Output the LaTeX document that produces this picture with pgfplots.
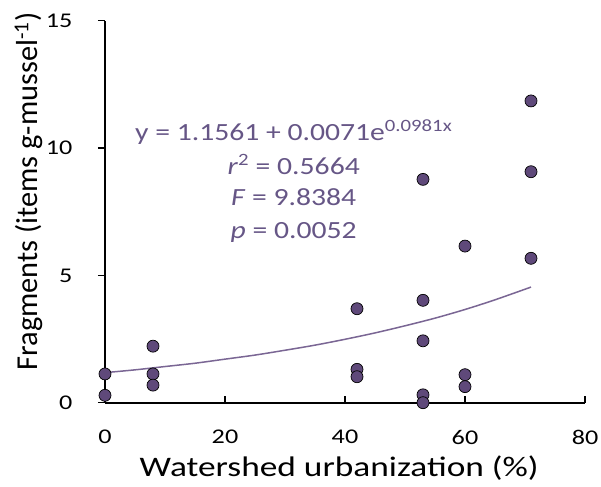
\documentclass[border=0pt]{standalone}
\usepackage{fontspec}
\setmainfont{Carlito}
\newfontfamily\tickfont[FakeStretch=1.25]{Carlito}
\newfontfamily\xlabfont[FakeStretch=1.25]{Carlito}
\newfontfamily\eqfont[FakeStretch=1.2]{Carlito}
\usepackage{pgfplots}
\pgfplotsset{compat=1.18}

\definecolor{dotfill}{RGB}{95,73,122}
\definecolor{fittxt}{RGB}{102,86,134}
\definecolor{fitline}{RGB}{122,102,148}

% fragments per mussel against watershed urbanization
\pgfplotstableread{
x    y
0    1.13
0    0.29
8    2.22
8    1.13
8    0.69
42   3.69
42   1.31
42   1.02
53   8.77
53   4.02
53   2.43
53   0.31
53   0.00
60   6.15
60   1.10
60   0.63
71   11.85
71   9.07
71   5.67
}\fragdata

% fitted exponential curve
\pgfplotstableread{
x    y
0    1.18
5    1.29
10   1.42
15   1.55
20   1.71
25   1.87
30   2.06
35   2.26
40   2.49
45   2.74
50   3.02
55   3.32
60   3.66
65   4.04
71   4.54
}\fitdata

\begin{document}
\begin{tikzpicture}
\begin{axis}[
  at={(0,0)}, anchor=south west,
  scale only axis, width=480bp, height=382bp,
  xmin=0, xmax=80, ymin=0, ymax=15,
  axis lines*=left,
  axis line style={line width=1.6bp, black},
  xtick={0,20,...,80}, ytick={0,5,10,15},
  xtick align=inside, ytick align=outside,
  major tick length=7bp,
  tick style={line width=1.3bp, black},
  /pgf/number format/assume math mode=true,
  ticklabel style={font=\tickfont\fontsize{21}{25}\selectfont},
  xticklabel style={yshift=-24bp},
  yticklabel style={xshift=-22bp},
  xlabel={Watershed urbanization (\%)},
  ylabel={Fragments (items g-mussel\textsuperscript{-1})},
  xlabel style={font=\xlabfont\fontsize{28.4}{32}\selectfont, at={(axis description cs:0.488,-0.192)}, anchor=base},
  ylabel style={font=\fontsize{30.5}{34}\selectfont, at={(axis description cs:-0.159,0.553)}, anchor=center},
  clip=false,
]
\addplot[color=fitline, line width=1.5bp, smooth] table[x=x, y=y] {\fitdata};
\addplot[only marks, mark=*, mark size=6bp,
  mark options={fill=dotfill, draw=black, line width=0.7bp}] table[x=x, y=y] {\fragdata};

\begin{scope}[every node/.style={text=fittxt, font=\eqfont\fontsize{24.8}{28}\selectfont, anchor=base}]
\node at (axis cs:31.45,10.29) {y = 1.1561 + 0.0071e\textsuperscript{0.0981x}};
\node at (axis cs:31.45,8.97) {\textit{r}\textsuperscript{2} = 0.5664};
\node at (axis cs:31.45,7.76) {\textit{F} = 9.8384};
\node at (axis cs:31.45,6.45) {\textit{p} = 0.0052};
\end{scope}
\end{axis}
\pgfresetboundingbox
\path (-105bp,-84.3bp) rectangle (496bp,402.7bp);
\end{tikzpicture}
\end{document}
